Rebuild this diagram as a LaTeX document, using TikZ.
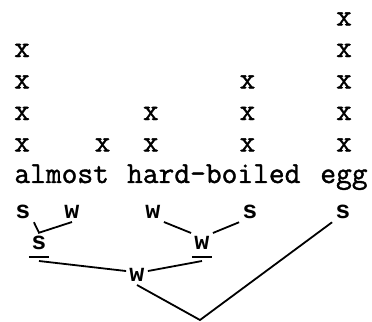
\documentclass[tikz,border=0pt]{standalone}
\usepackage{fontspec}
\newfontfamily\stressfont{Liberation Mono}
\newfontfamily\wordfont{Latin Modern Mono}[FakeBold=1.3]
\usetikzlibrary{calc}

\begin{document}
\begin{tikzpicture}[x=0.5pt,y=-0.5pt]
  \tikzset{
    word/.style={anchor=base west,inner sep=0pt,font=\fontsize{15.3}{16}\wordfont},
    grid/.style={anchor=base,inner sep=0pt,font=\fontsize{15.3}{16}\wordfont},
    stress/.style={inner sep=1.5pt,font=\fontsize{12.5}{12.5}\stressfont\bfseries},
    branch/.style={line width=0.9pt},
  }
  \useasboundingbox (0,0) rectangle (372,322);
  \def\xo{14} % left edge of the first letter cell
  \def\pitch{16.1} % one letter cell

  % the words, on one line of letter cells
  \foreach \c/\w/\n in {0/almost/almost,7/hard-boiled/hardboiled,19/egg/egg}
  \node[word] (\n) at (\xo+\pitch*\c,183) {\w};

  % metrical grid: column of x over a letter cell
  \foreach \c/\h in {0/4,5/1,8/2,14/3,20/5}
  \foreach \k in {1,...,\h}
  \node[grid] (x-\c-\k) at (\xo+\pitch*\c+\pitch/2,183-31.5*\k) {x};

  % metrical tree
  \node[stress] (s-al) at (23,212) {s};
  \node[stress] (w-most) at (72,212) {w};
  \node[stress] (w-hard) at (153,212) {w};
  \node[stress] (s-boiled) at (250,212) {s};
  \node[stress] (s-egg) at (343,212) {s};
  \node[stress] (s-almost) at (39,243) {s};
  \node[stress] (w-hardboiled) at (202,243) {w};
  \node[stress] (w-top) at (137,275) {w};
  \coordinate (root) at (200,320);

  % underlined heads
  \foreach \n in {s-almost,w-hardboiled}
  \draw[branch]
  ($(\n)+(-10,14)$) -- ($(\n)+(10,14)$)
  ($(\n)+(0,18)$) coordinate (\n-ul)
  ;

  \draw[branch]
  (s-al.south east) -- (s-almost.north) -- (w-most.south)
  (w-hard.south east) -- (w-hardboiled.north west)
  (s-boiled.south west) -- (w-hardboiled.north east)
  (s-almost-ul) -- (w-top.160)
  (w-hardboiled-ul) -- (w-top.20)
  (w-top.south) -- (root) -- (s-egg.south west)
  ;
\end{tikzpicture}
\end{document}
